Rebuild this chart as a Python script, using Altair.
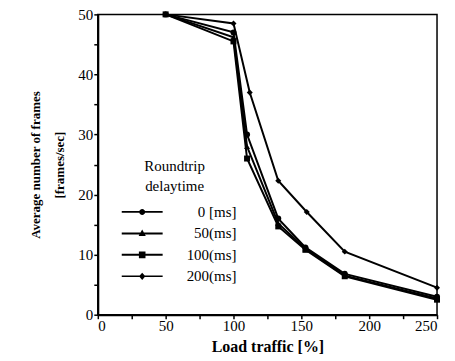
import altair as alt
import pandas as pd

series = ["0 [ms]", "50(ms]", "100(ms]", "200(ms]"]
x_0 = [50, 100, 110, 133, 153, 182, 250]
y_0 = [50, 47.0, 30.0, 16.0, 11.2, 6.8, 3.0]
x_50 = [50, 100, 110, 133, 153, 182, 250]
y_50 = [50, 46.2, 28.0, 15.2, 11.0, 6.5, 2.7]
x_100 = [50, 100, 110, 133, 153, 182, 250]
y_100 = [50, 45.5, 26.0, 14.7, 10.8, 6.4, 2.5]
x_200 = [50, 100, 112, 133, 154, 182, 250]
y_200 = [50, 48.5, 37.0, 22.3, 17.1, 10.5, 4.5]

rows = []
for s, xs, ys in zip(series, [x_0, x_50, x_100, x_200], [y_0, y_50, y_100, y_200]):
    for a, b in zip(xs, ys):
        rows.append({"series": s, "load": a, "fps": b, "key": s})
df = pd.DataFrame(rows)

FONT = "Liberation Serif"

# legend symbols: a thin bar plus a marker, drawn right of the nominal symbol centre
c = 1.95
circle = f"M{c+0.3},0A0.3,0.3 0 1 1 {c-0.3},0A0.3,0.3 0 1 1 {c+0.3},0Z"
tri = f"M{c},-0.38L{c+0.36},0.26L{c-0.36},0.26Z"
sq = f"M{c-0.33},-0.33H{c+0.33}V0.33H{c-0.33}Z"
dia = f"M{c},-0.36L{c+0.32},0L{c},0.36L{c-0.32},0Z"
bars = ["M-0.1,-0.09H4.0V0.09H-0.1Z", "M-0.1,-0.1H4.0V0.1H-0.1Z",
        "M-0.1,-0.1H4.0V0.1H-0.1Z", "M-0.1,-0.07H4.0V0.07H-0.1Z"]
legend_paths = [b + m for b, m in zip(bars, [circle, tri, sq, dia])]

x_enc = alt.X("load:Q", scale=alt.Scale(domain=[0, 250], nice=False),
              axis=alt.Axis(title="Load traffic [%]", values=list(range(0, 251, 25)),
                            labelExpr="datum.value % 50 == 0 ? datum.label : ''"))
y_enc = alt.Y("fps:Q", scale=alt.Scale(domain=[0, 50], nice=False),
              axis=alt.Axis(title=["Average number of frames", "[frames/sec]"],
                            values=list(range(0, 51, 5)),
                            labelExpr="datum.value % 10 == 0 ? datum.label : ''"))

lines = alt.Chart(df).mark_line(color="black", strokeWidth=2).encode(
    x=x_enc, y=y_enc, detail="series:N",
    strokeWidth=alt.StrokeWidth("series:N", scale=alt.Scale(domain=series, range=[2, 2, 2.2, 1.4]), legend=None),
)

pts = alt.Chart(df).mark_point(filled=True, color="black", size=36, opacity=1).encode(
    x=x_enc, y=y_enc,
    shape=alt.Shape("series:N", scale=alt.Scale(domain=series, range=["circle", "triangle-up", "square", "diamond"]), legend=None),
)

leg = alt.Chart(df).mark_point(filled=True, color="black", size=400, opacity=0).encode(
    x=x_enc, y=y_enc,
    shape=alt.Shape("key:N", scale=alt.Scale(domain=series, range=legend_paths),
                    legend=alt.Legend(title=["Roundtrip", "delaytime"], orient="none",
                                      legendX=15, legendY=145,
                                      symbolSize=400, symbolOpacity=1,
                                      symbolFillColor="black", symbolStrokeColor="black",
                                      symbolStrokeWidth=0,
                                      labelAlign="right", labelOffset=104,
                                      labelFont=FONT, labelFontSize=15, labelColor="black",
                                      titleFont=FONT, titleFontSize=15, titleFontWeight="normal",
                                      titleColor="black", titleAnchor="middle", titleAlign="center",
                                      titleLineHeight=20, titlePadding=8, rowPadding=3.5)),
)

chart = alt.layer(lines, pts, leg).resolve_scale(shape="independent").properties(
    width=340, height=301, autosize="none",
    padding={"left": 90, "top": 6, "right": 10, "bottom": 40},
).configure_view(stroke="black", strokeWidth=1.5).configure_axis(
    grid=False, domainColor="black", domainWidth=2, tickColor="black", tickSize=4,
    tickWidth=1.5, labelFont=FONT, labelFontSize=15, labelColor="black",
    titleFont=FONT, titleFontSize=13, titleFontWeight="bold", titleColor="black",
    labelPadding=1,
).configure_axisY(titlePadding=11, titleLineHeight=24).configure_axisX(
    titlePadding=5, labelPadding=0, titleFontSize=16)

chart.save("out.html", embed_options={"renderer": "svg", "actions": False})
